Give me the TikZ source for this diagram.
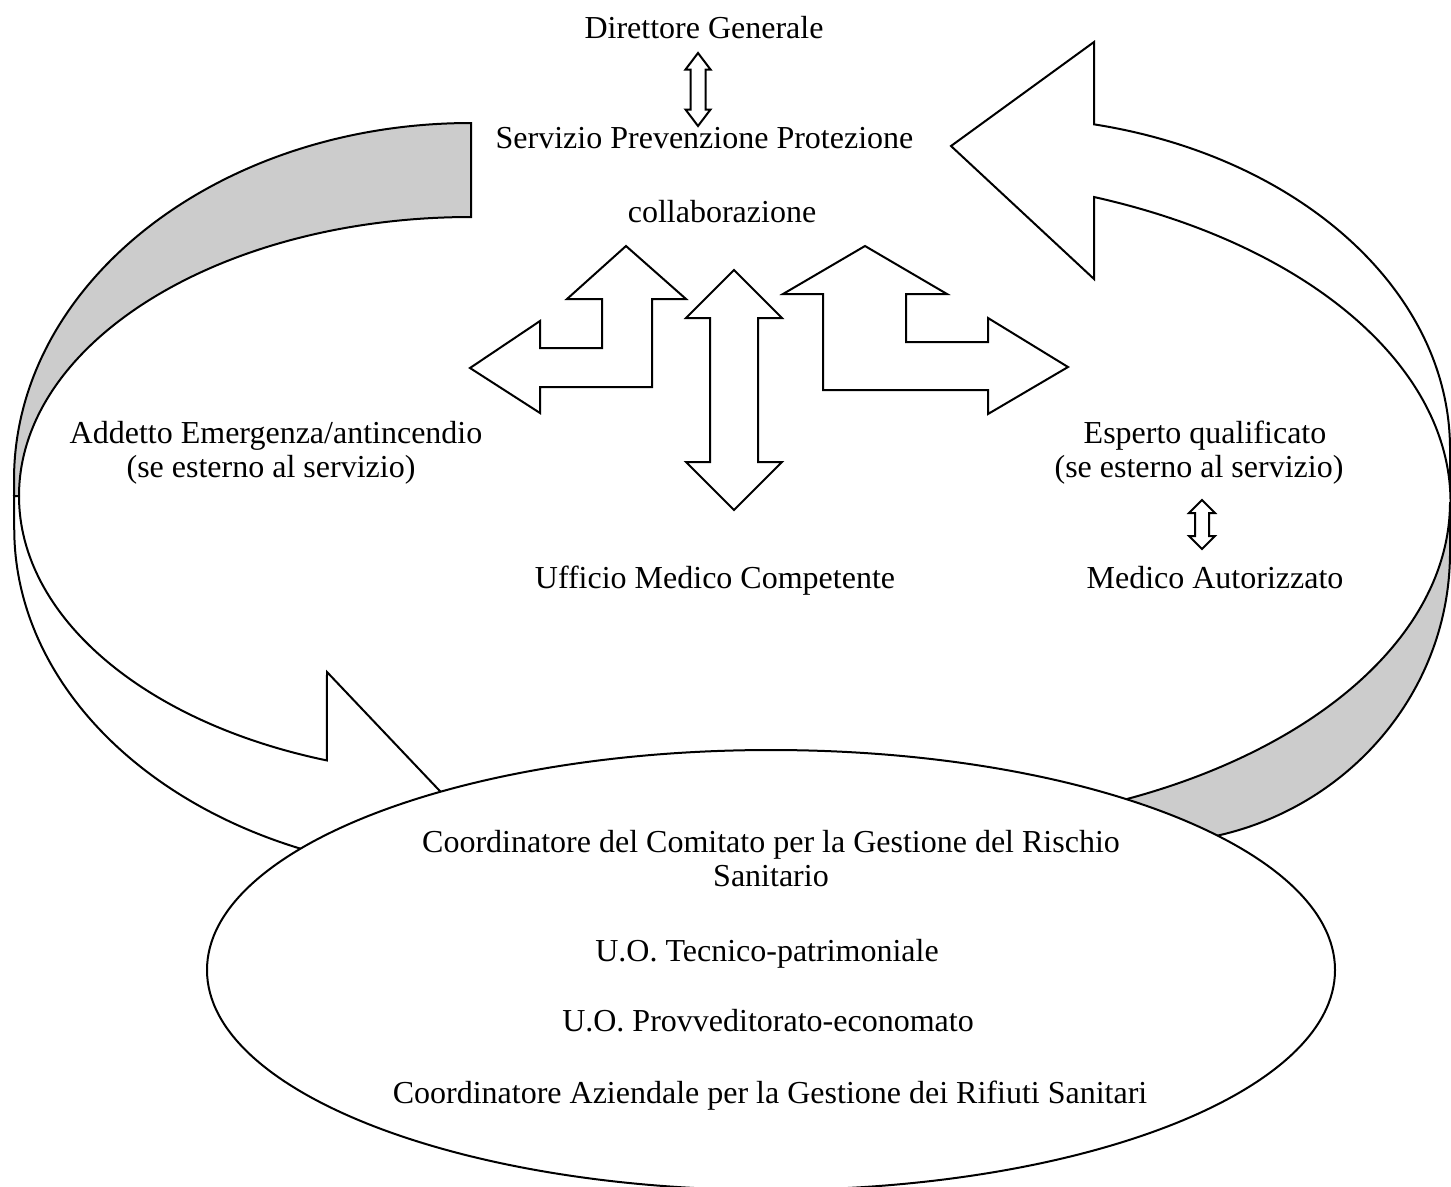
\documentclass[tikz,border=0pt]{standalone}
\usepackage{fontspec}
\setmainfont{Liberation Serif}
\usetikzlibrary{shapes.geometric}

% vertical block arrow with a head at both ends: centre x, top y, bottom y, head half width, shaft half width, head length
\newcommand{\vdblarrow}[6]{%
	\draw[blockarrow] (#1,#2) -- ({#1+#4},{#2+#6}) -- ({#1+#5},{#2+#6}) -- ({#1+#5},{#3-#6}) -- ({#1+#4},{#3-#6}) -- (#1,#3)
		-- ({#1-#4},{#3-#6}) -- ({#1-#5},{#3-#6}) -- ({#1-#5},{#2+#6}) -- ({#1-#4},{#2+#6}) -- cycle;}

\tikzset{
	lbl/.style={font=\fontsize{12pt}{13pt}\selectfont, inner sep=0pt, anchor=base},
	blockarrow/.style={draw, line width=0.75pt, fill=white, line join=miter},
	backband/.style={blockarrow, fill=black!20},
}

\begin{document}
\begin{tikzpicture}[x=0.375pt, y=-0.375pt]
		\useasboundingbox (0,0) rectangle (1451,1186);
		
		% Curved arrow left (back part, then front part)
		\draw[backband] (471,123) arc[start angle=-90, end angle=-180, x radius=457, y radius=357] -- (14,496) -- (19,496)
			arc[start angle=180, end angle=270, x radius=452, y radius=279] -- cycle;
		\draw[blockarrow] (19,496) arc[start angle=180, end angle=108.6, x radius=452, y radius=279] -- (327,672) -- (456,808) -- (327,944) -- (327,856)
			arc[start angle=108.4, end angle=180, x radius=457, y radius=345] -- (14,496) -- cycle;
		
		% Curved arrow right (back part, then front part)
		\draw[backband] (1450,502) arc[start angle=0, end angle=80, x radius=550, y radius=326] -- (1150,843)
			arc[start angle=90, end angle=0, x radius=300, y radius=291] -- cycle;
		\draw[blockarrow] (1094,42) -- (951,146) -- (1094,279) -- (1094,197) arc[start angle=-69.4, end angle=0, x radius=550, y radius=326] -- (1450,449)
			arc[start angle=0, end angle=-77.94, x radius=450, y radius=332] -- cycle;
		
		\node[draw, ellipse, line width=0.75pt, fill=white, inner sep=0pt, minimum width=423pt, minimum height=165pt] (gestione) at (771,970) {};
		
		% Labels
		\node[lbl] (direttore) at (704,38) {Direttore Generale};
		\node[lbl] (servizio) at (704.5,148) {Servizio Prevenzione Protezione};
		\node[lbl] (collab) at (722,222) {collaborazione};
		\node[lbl] (addetto) at (276,443) {Addetto Emergenza/antincendio};
		\node[lbl] (addettonota) at (271,477) {(se esterno al servizio)};
		\node[lbl] (esperto) at (1205,443) {Esperto qualificato};
		\node[lbl] (espertonota) at (1199,477) {(se esterno al servizio)};
		\node[lbl] (medicoaut) at (1215,588) {Medico Autorizzato};
		\node[lbl] (ufficio) at (715,588) {Ufficio Medico Competente};
		
		\node[lbl] (rischio) at (771,852) {Coordinatore del Comitato per la Gestione del Rischio};
		\node[lbl] (sanitario) at (771,886) {Sanitario};
		\node[lbl] (tecnico) at (767,961) {U.O. Tecnico-patrimoniale};
		\node[lbl] (provv) at (768,1031) {U.O. Provveditorato-economato};
		\node[lbl] (rifiuti) at (770,1103) {Coordinatore Aziendale per la Gestione dei Rifiuti Sanitari};
		
		% Double arrows
		\vdblarrow{698}{53}{126}{12.5}{7.5}{16.5}
		\vdblarrow{1202}{500}{549}{13}{7}{13}
		\vdblarrow{734}{270}{510}{48}{24}{48}
		
		% Bent arrows
		\draw[blockarrow] (626,246) -- (686,299) -- (652,299) -- (652,387) -- (540,387) -- (540,413) -- (470,368) -- (540,321) -- (540,348) -- (602,348) -- (602,299) -- (567,299) -- cycle;
		\draw[blockarrow] (865,246) -- (947,294) -- (906,294) -- (906,342) -- (988,342) -- (988,318) -- (1068,367) -- (988,414) -- (988,390) -- (823,390) -- (823,294) -- (783,294) -- cycle;
	\end{tikzpicture}
\end{document}
